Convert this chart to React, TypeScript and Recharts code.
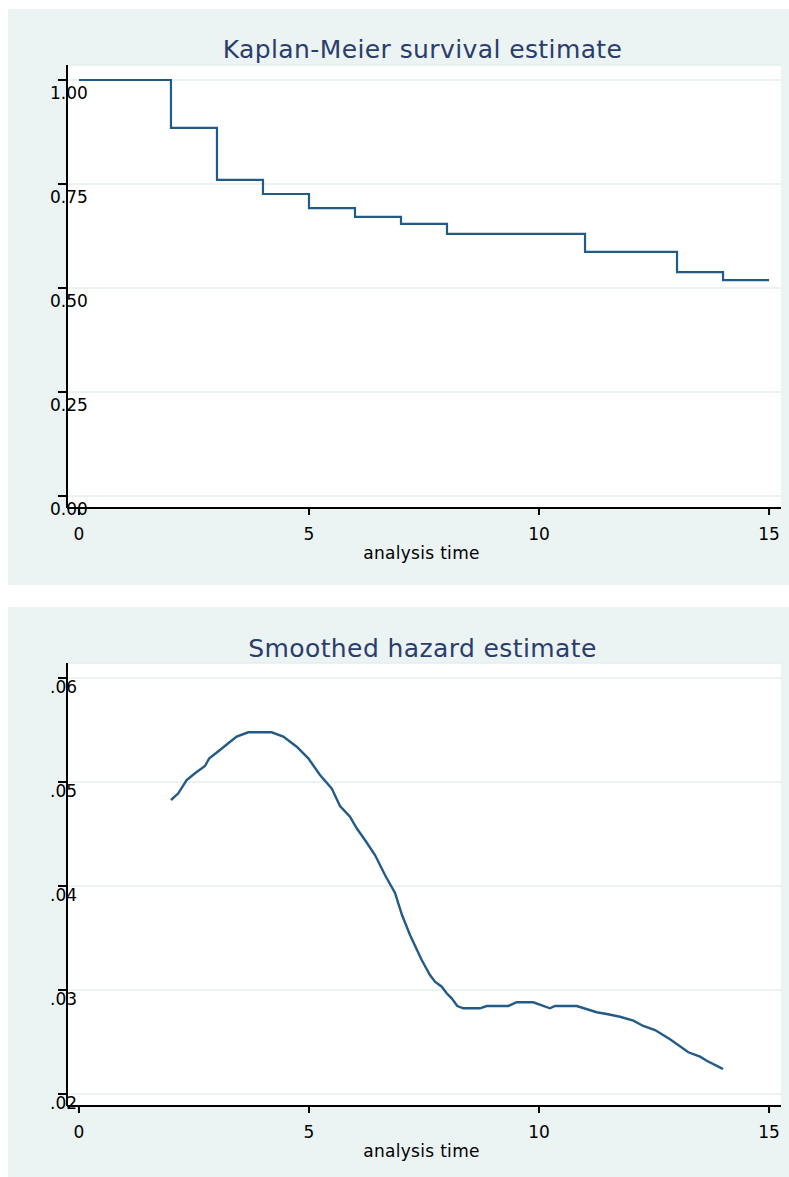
import React from "react";
import { LineChart, Line, XAxis, YAxis, CartesianGrid } from "recharts";

// ---- Data ----
const KM_TIME = [0, 1, 2, 3, 4, 5, 6, 7, 8, 11, 12, 13, 14, 15];
const KM_SURV = [1, 1, 0.885, 0.76, 0.726, 0.692, 0.671, 0.654, 0.63, 0.587, 0.587, 0.538, 0.519, 0.519];

const HZ_TIME = [
  2.0, 2.159, 2.341, 2.522, 2.739, 2.833, 3.065, 3.246, 3.428, 3.68, 4.189, 4.441, 4.733, 4.985,
  5.239, 5.493, 5.674, 5.891, 6.037, 6.217, 6.435, 6.652, 6.87, 7.022, 7.196, 7.45, 7.63, 7.739,
  7.885, 7.993, 8.102, 8.224, 8.354, 8.717, 8.863, 9.333, 9.515, 9.876, 10.239, 10.348, 10.82,
  11.254, 11.472, 11.761, 12.05, 12.267, 12.522, 12.848, 13.246, 13.5, 13.646, 13.972, 14.0,
];
const HZ_VALUE = [
  0.04827, 0.04891, 0.05019, 0.05084, 0.05154, 0.05228, 0.05308, 0.05372, 0.05436, 0.05478,
  0.05478, 0.05436, 0.05339, 0.05228, 0.05067, 0.04939, 0.04769, 0.04666, 0.04555, 0.04442,
  0.04298, 0.04106, 0.03933, 0.03721, 0.03529, 0.03288, 0.03144, 0.0308, 0.03032, 0.02968,
  0.0292, 0.02846, 0.02824, 0.02824, 0.02846, 0.02846, 0.02882, 0.02882, 0.02824, 0.02846,
  0.02846, 0.02786, 0.02769, 0.02743, 0.02705, 0.02654, 0.02615, 0.02526, 0.02401, 0.02359,
  0.0232, 0.02247, 0.0224,
];

const X_TICKS = [0, 5, 10, 15];
const KM_Y_TICKS = [0, 0.25, 0.5, 0.75, 1];
const KM_Y_LABELS = ["0.00", "0.25", "0.50", "0.75", "1.00"];
const HZ_Y_TICKS = [0.02, 0.03, 0.04, 0.05, 0.06];
const HZ_Y_LABELS = [".02", ".03", ".04", ".05", ".06"];

const TITLE_KM = "Kaplan-Meier survival estimate";
const TITLE_HZ = "Smoothed hazard estimate";
const X_TITLE = "analysis time";

const kmData = KM_TIME.map((t, i) => ({ t, s: KM_SURV[i] }));
const hzData = HZ_TIME.map((t, i) => ({ t, h: HZ_VALUE[i] }));

// ---- Styles ----
const FONT = "'DejaVu Sans', Verdana, sans-serif";
const PANEL_BG = "#EBF3F3";
const GRID = "#E4EEEE";
const LINE = "#235B88";
const TITLE_COLOR = "#2B3D6B";
const W = 789;
const H = 1177;

const makeYTick = (ticks: number[], labels: string[], dy: number) => (props: any) => {
  const idx = ticks.findIndex((v) => Math.abs(v - props.payload.value) < 1e-9);
  return (
    <text x={50} y={props.y + dy} fontFamily={FONT} fontSize={17} fill="#000" textAnchor="start">
      {idx >= 0 ? labels[idx] : ""}
    </text>
  );
};

const makeXTick = (axisY: number) => (props: any) => (
  <text x={props.x} y={axisY + 32} fontFamily={FONT} fontSize={17} fill="#000" textAnchor="middle">
    {props.payload.value}
  </text>
);

const textDiv = (text: string, cx: number, baseline: number, size: number, color: string, ls = 0) => {
  const w = 600;
  return (
    <div
      style={{
        position: "absolute",
        left: cx - w / 2,
        width: w,
        top: baseline - 0.846 * size,
        height: size,
        lineHeight: `${size}px`,
        fontSize: size,
        fontFamily: FONT,
        color,
        textAlign: "center",
        whiteSpace: "pre",
        letterSpacing: ls,
      }}
    >
      {text}
    </div>
  );
};

export default function App() {
  return (
    <div style={{ position: "absolute", left: 0, top: 0, width: W, height: H, background: "#fff", overflow: "hidden" }}>
      <div style={{ position: "absolute", left: 8, top: 9, width: W - 8, height: 576, background: PANEL_BG }} />
      <div style={{ position: "absolute", left: 8, top: 607, width: W - 8, height: H - 607, background: PANEL_BG }} />

      {textDiv(TITLE_KM, 422.5, 58, 25, TITLE_COLOR, 0.4)}
      {textDiv(X_TITLE, 421.5, 559, 17, "#000", 0.3)}
      {textDiv(TITLE_HZ, 422.5, 657, 25, TITLE_COLOR, 0.4)}
      {textDiv(X_TITLE, 421.5, 1157, 17, "#000", 0.3)}

      <div style={{ position: "absolute", left: 0, top: 0 }}>
        <LineChart width={W} height={600} data={kmData} margin={{ top: 65, right: 8, bottom: 91, left: 66 }}>
          <CartesianGrid fill="#fff" stroke={GRID} strokeWidth={1.5} vertical={false} />
          <XAxis
            dataKey="t"
            type="number"
            domain={[-0.26, 15.26]}
            ticks={X_TICKS}
            allowDataOverflow
            height={1}
            stroke="#000"
            strokeWidth={2}
            tickSize={7}
            tick={makeXTick(508)}
          />
          <YAxis
            type="number"
            domain={[-0.028846, 1.036058]}
            ticks={KM_Y_TICKS}
            allowDataOverflow
            width={1}
            stroke="#000"
            strokeWidth={2}
            tickSize={9}
            tick={makeYTick(KM_Y_TICKS, KM_Y_LABELS, 19)}
          />
          <Line
            dataKey="s"
            type="stepAfter"
            stroke={LINE}
            strokeWidth={2.2}
            dot={false}
            isAnimationActive={false}
          />
        </LineChart>
      </div>

      <div style={{ position: "absolute", left: 0, top: 598 }}>
        <LineChart width={W} height={579} data={hzData} margin={{ top: 65, right: 8, bottom: 70, left: 66 }}>
          <CartesianGrid fill="#fff" stroke={GRID} strokeWidth={1.5} vertical={false} />
          <XAxis
            dataKey="t"
            type="number"
            domain={[-0.26, 15.26]}
            ticks={X_TICKS}
            allowDataOverflow
            height={1}
            stroke="#000"
            strokeWidth={2}
            tickSize={7}
            tick={makeXTick(508)}
          />
          <YAxis
            type="number"
            domain={[0.018846, 0.061442]}
            ticks={HZ_Y_TICKS}
            allowDataOverflow
            width={1}
            stroke="#000"
            strokeWidth={2}
            tickSize={9}
            tick={makeYTick(HZ_Y_TICKS, HZ_Y_LABELS, 14.7)}
          />
          <Line
            dataKey="h"
            type="linear"
            stroke={LINE}
            strokeWidth={2.4}
            dot={false}
            isAnimationActive={false}
          />
        </LineChart>
      </div>
    </div>
  );
}
